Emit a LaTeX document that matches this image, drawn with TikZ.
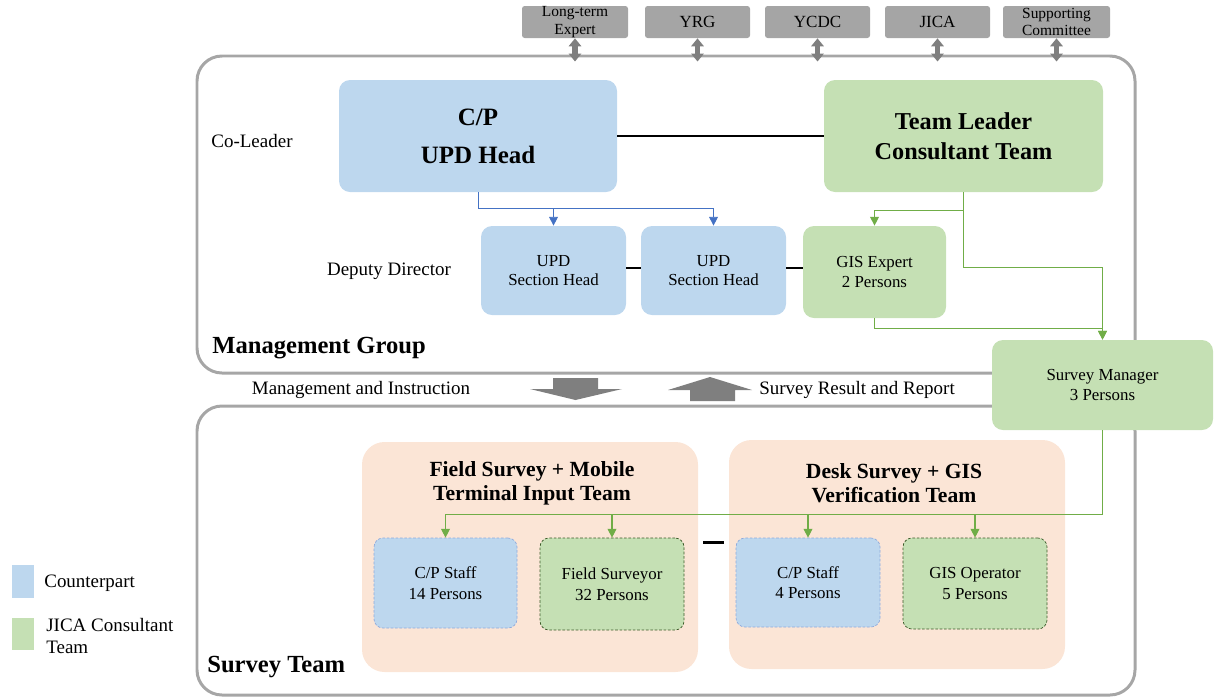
\documentclass[tikz,border=0pt]{standalone}
\usepackage{fontspec}
\setmainfont{Liberation Serif}
\usetikzlibrary{arrows.meta, calc, positioning}
\definecolor{cpblue}{HTML}{BDD7EE}
\definecolor{jcgreen}{HTML}{C5E0B4}
\definecolor{teampeach}{HTML}{FBE5D6}
\definecolor{framegray}{HTML}{A6A6A6}
\definecolor{boxgray}{HTML}{A5A5A5}
\definecolor{arrgray}{HTML}{7F7F7F}
\definecolor{linkblue}{HTML}{4472C4}
\definecolor{linkgreen}{HTML}{70AD47}
\definecolor{dashblue}{HTML}{8FAADC}
\definecolor{dashgreen}{HTML}{3B5A28}
\tikzset{
  wh/.style 2 args={minimum width=#1*0.02cm, minimum height=#2*0.02cm},
  frame/.style={draw=framegray, line width=1.7pt, rounded corners=0.5cm},
  grouplab/.style={font=\fontsize{14}{16}\selectfont\bfseries, inner sep=0pt},
  sidelab/.style={font=\fontsize{10.8}{13}\selectfont, inner sep=0pt},
  topbox/.style={fill=boxgray, rounded corners=1.5pt, inner sep=0pt, align=center, font=\fontsize{9.7}{11}\selectfont},
  cpbox/.style={fill=cpblue, rounded corners=0.22cm, inner sep=0pt, align=center, font=\fontsize{9.6}{11.3}\selectfont},
  jcbox/.style={fill=jcgreen, rounded corners=0.22cm, inner sep=0pt, align=center, font=\fontsize{9.6}{11.3}\selectfont},
  teambox/.style={fill=teampeach, rounded corners=0.45cm, inner sep=0pt},
  teamtitle/.style={font=\fontsize{12.3}{13.6}\selectfont\bfseries, align=center, inner sep=0pt},
  cpstaff/.style={cpbox, draw=dashblue, dash pattern=on 1.5pt off 1pt, rounded corners=0.18cm, font=\fontsize{9.6}{11.8}\selectfont},
  jcstaff/.style={jcbox, draw=dashgreen, dash pattern=on 1.5pt off 1pt, rounded corners=0.18cm, font=\fontsize{9.6}{11.8}\selectfont},
  link/.style={line width=1.5pt},
  bluearr/.style={draw=linkblue, line width=0.5pt, -{Triangle[width=5pt,length=5pt]}},
  greenarr/.style={draw=linkgreen, line width=0.6pt, -{Triangle[width=5pt,length=5pt]}},
  duoarr/.style={draw=arrgray, line width=3pt, {Triangle[width=7pt,length=4.5pt]}-{Triangle[width=7pt,length=4.5pt]}},
  blockarr/.style={fill=arrgray}
}
\begin{document}
\begin{tikzpicture}[x=0.02cm,y=-0.02cm]
\useasboundingbox (0,0) rectangle (1229,697);

\node[frame, wh={938}{317}] (mgrp) at (666,214.5) {};
\node[frame, wh={938}{289}] (steam) at (666,550.5) {};
\node[grouplab, anchor=west] (mglab) at (212,348) {Management Group};
\node[grouplab, anchor=west] (stlab) at (207,667) {Survey Team};

\node[topbox, wh={106}{32}, font=\fontsize{8.8}{10}\selectfont] (ltexp) at (575,22) {Long-term\\Expert};
\node[topbox, wh={105}{32}] (yrg) at (697.5,22) {YRG};
\node[topbox, wh={105}{32}] (ycdc) at (817.5,22) {YCDC};
\node[topbox, wh={105}{32}] (jica) at (937.5,22) {JICA};
\node[topbox, wh={107}{32}, font=\fontsize{8.8}{10}\selectfont] (supcom) at (1056.5,22) {Supporting\\Committee};
\foreach \nm in {ltexp,yrg,ycdc,jica,supcom}
  \draw[duoarr] (\nm.south) -- ($(\nm.south |- mgrp.north)+(0,7)$);

\node[sidelab] (colead) at (252,141) {Co-Leader};
\node[sidelab] (depdir) at (389,271) {Deputy Director};

\node[cpbox, wh={278}{112}, font=\fontsize{14.2}{21.5}\selectfont\bfseries] (cphead) at (478,136) {C/P\\UPD Head};
\node[jcbox, wh={279}{112}, font=\fontsize{13.8}{17}\selectfont\bfseries] (tlead) at (963.5,136) {Team Leader\\Consultant Team};
\node[cpbox, wh={145}{89}] (sech1) at (553.5,270.5) {UPD\\Section Head};
\node[cpbox, wh={145}{89}] (sech2) at (713.5,270.5) {UPD\\Section Head};
\node[jcbox, wh={143}{92}] (gisexp) at (874.5,272) {GIS Expert\\2 Persons};
\node[jcbox, wh={221}{90}] (smgr) at (1102.5,385) {Survey Manager\\3 Persons};

\draw[link] (cphead) -- (tlead);
\draw[link] (sech1.east |- 0,268) -- (sech2.west |- 0,268);
\draw[link] (sech2.east |- 0,268) -- (gisexp.west |- 0,268);

\draw[bluearr] (cphead.south) -- ++(0,16) coordinate (bsplit) -| (sech2.north);
\draw[bluearr] (bsplit -| sech1.north) -- (sech1.north);
\draw[greenarr] (tlead.south) -- ++(0,18) coordinate (gsplit) -| (gisexp.north);
\draw[greenarr] (gsplit) -- ++(0,57) -| (smgr.north);
\draw[greenarr] (gisexp.south) -- ++(0,10) -| (smgr.north);

\fill[blockarr] (553,378) -- (598,378) -- (598,389) -- (622,389) -- (575.5,400) -- (530,389) -- (553,389) -- cycle;
\fill[blockarr] (690,401) -- (735,401) -- (735,390) -- (752,390) -- (710,377) -- (668,390) -- (690,390) -- cycle;
\node[sidelab] (mgins) at (361,390) {Management and Instruction};
\node[sidelab] (srrep) at (857,390) {Survey Result and Report};

\node[teambox, wh={336}{230}] (fteam) at (530,557) {};
\node[teambox, wh={336}{229}] (dteam) at (897,554.5) {};
\node[teamtitle] (fttl) at (532,483) {Field Survey + Mobile\\Terminal Input Team};
\node[teamtitle] (dttl) at (894,483) {Desk Survey + GIS\\Verification Team};
\node[cpstaff, wh={143}{90}] (cpst1) at (445.5,583) {C/P Staff\\14 Persons};
\node[jcstaff, wh={144}{92}] (fsurv) at (612,584) {Field Surveyor\\32 Persons};
\node[cpstaff, wh={144}{89}] (cpst2) at (808,582.5) {C/P Staff\\4 Persons};
\node[jcstaff, wh={144}{91}] (gisop) at (975,583.5) {GIS Operator\\5 Persons};
\draw[link] ($(fteam.east |- cpst1.north)+(5,5)$) -- ($(dteam.west |- cpst1.north)+(-5,5)$);

\draw[greenarr] (smgr.south) -- ++(0,84) coordinate (tsplit) -| (cpst1.north);
\foreach \nm in {fsurv,cpst2,gisop}
  \draw[greenarr] (tsplit -| \nm.north) -- (\nm.north);

\node[fill=cpblue, wh={22}{33}, inner sep=0pt] (legcp) at (23,581.5) {};
\node[fill=jcgreen, wh={22}{32}, inner sep=0pt] (legjc) at (23,634) {};
\node[sidelab, anchor=west] (legcptxt) at (44,583) {Counterpart};
\node[sidelab, anchor=west, align=left] (legjctxt) at (46,636) {JICA Consultant\\Team};
\end{tikzpicture}
\end{document}
